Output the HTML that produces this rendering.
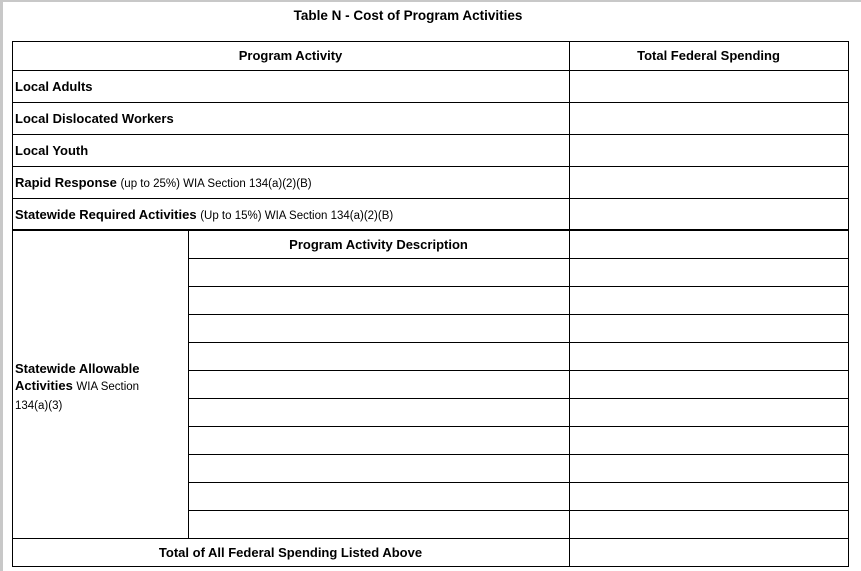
<!DOCTYPE html>
<html><head><meta charset="utf-8"><style>
body{margin:0;width:861px;height:571px;background:#fff;position:relative;overflow:hidden;font-family:"Liberation Sans",Arial,sans-serif;color:#000}
.h{position:absolute;height:1px;background:#000}
.v{position:absolute;width:1px;background:#000}
.t{position:absolute;font-size:13px;font-weight:bold;white-space:nowrap;line-height:15px}
.t span{font-weight:normal;font-size:11.5px}
.c{text-align:center}
</style></head><body>
<div style="position:absolute;left:0;top:0;width:3px;height:571px;background:#c8c8c8"></div>
<div style="position:absolute;left:0;top:0;width:861px;height:2px;background:#c8c8c8"></div>
<div class="t c" style="left:0;width:816px;top:8px;font-size:13.5px">Table N - Cost of Program Activities</div>
<!-- horizontals -->
<div class="h" style="left:12px;width:837px;top:41px"></div>
<div class="h" style="left:12px;width:837px;top:70px"></div>
<div class="h" style="left:12px;width:837px;top:102px"></div>
<div class="h" style="left:12px;width:837px;top:134px"></div>
<div class="h" style="left:12px;width:837px;top:166px"></div>
<div class="h" style="left:12px;width:837px;top:198px"></div>
<div class="h" style="left:12px;width:837px;top:229px;height:2px"></div>
<div class="h" style="left:188px;width:661px;top:258px"></div>
<div class="h" style="left:188px;width:661px;top:286px"></div>
<div class="h" style="left:188px;width:661px;top:314px"></div>
<div class="h" style="left:188px;width:661px;top:342px"></div>
<div class="h" style="left:188px;width:661px;top:370px"></div>
<div class="h" style="left:188px;width:661px;top:398px"></div>
<div class="h" style="left:188px;width:661px;top:426px"></div>
<div class="h" style="left:188px;width:661px;top:454px"></div>
<div class="h" style="left:188px;width:661px;top:482px"></div>
<div class="h" style="left:188px;width:661px;top:510px"></div>
<div class="h" style="left:12px;width:837px;top:538px"></div>
<div class="h" style="left:12px;width:837px;top:566px"></div>
<!-- verticals -->
<div class="v" style="left:12px;top:41px;height:526px"></div>
<div class="v" style="left:848px;top:41px;height:526px"></div>
<div class="v" style="left:569px;top:41px;height:526px"></div>
<div class="v" style="left:188px;top:230px;height:309px"></div>
<!-- text -->
<div class="t c" style="left:12px;width:557px;top:48px">Program Activity</div>
<div class="t c" style="left:569px;width:279px;top:48px">Total Federal Spending</div>
<div class="t" style="left:15px;top:79px">Local Adults</div>
<div class="t" style="left:15px;top:111px">Local Dislocated Workers</div>
<div class="t" style="left:15px;top:143px">Local Youth</div>
<div class="t" style="left:15px;top:175px">Rapid Response <span>(up to 25%) WIA Section 134(a)(2)(B)</span></div>
<div class="t" style="left:15px;top:207px">Statewide Required Activities <span>(Up to 15%) WIA Section 134(a)(2)(B)</span></div>
<div class="t c" style="left:188px;width:381px;top:237px">Program Activity Description</div>
<div class="t" style="left:15px;top:360px;line-height:17px">Statewide Allowable<br>Activities <span>WIA Section</span><br><span>134(a)(3)</span></div>
<div class="t c" style="left:12px;width:557px;top:545px">Total of All Federal Spending Listed Above</div>
</body></html>
